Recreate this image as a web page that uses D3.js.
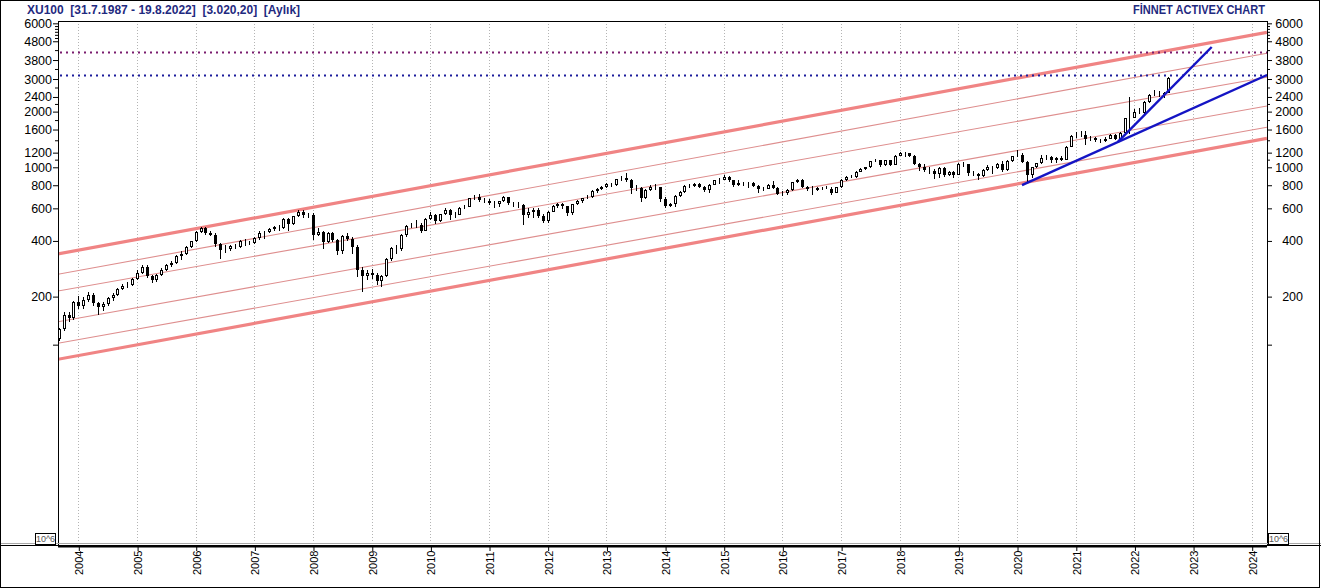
<!DOCTYPE html>
<html>
<head>
<meta charset="utf-8">
<script src="https://cdn.jsdelivr.net/npm/d3@7"></script>
<style>
  body { margin: 0; background: #fff; }
  text { font-family: Arial, "Liberation Sans", sans-serif; }
</style>
</head>
<body>
<div id="chart"></div>
<script>
// Monthly XU100 candles, the first one is September 2003
const firstMonth = "2003-09";

const opens = [
  118, 133, 160, 153,
  186, 177, 192, 204, 184, 176, 182, 196, 204, 221, 228, 232,
  250, 268, 290, 258, 246, 262, 280, 296, 305, 330, 340, 372,
  398, 449, 470, 440, 432, 385, 358, 362, 376, 372, 398, 393,
  391, 413, 440, 447, 462, 475, 470, 527, 495, 545, 575, 553,
  555, 431, 447, 396, 443, 405, 354, 425, 410, 372, 280, 258,
  269, 262, 244, 258, 318, 365, 360, 431, 482, 489, 485, 455,
  528, 551, 512, 558, 590, 552, 555, 606, 612, 680, 695, 665,
  660, 640, 632, 655, 690, 640, 635, 625, 555, 575, 590, 545,
  513, 575, 620, 635, 615, 565, 630, 655, 680, 690, 745, 760,
  782, 810, 805, 860, 870, 850, 775, 770, 680, 755, 785, 780,
  678, 620, 630, 700, 735, 795, 790, 810, 780, 750, 805, 850,
  857, 890, 850, 805, 825, 810, 820, 790, 760, 765, 800, 775,
  717, 730, 750, 830, 855, 785, 765, 755, 770, 775, 765, 728,
  781, 850, 890, 890, 945, 980, 1000, 1075, 1095, 1030, 1090, 1030,
  1153, 1195, 1190, 1150, 1040, 1010, 965, 955, 925, 995, 905, 945,
  913, 1040, 1036, 935, 925, 900, 965, 1010, 990, 1045, 965, 1080,
  1144, 1170, 1070, 905, 1000, 1050, 1120, 1140, 1090, 1120, 1100, 1290,
  1476, 1470, 1500, 1420, 1440, 1410, 1380, 1430, 1500, 1420, 1540, 1840,
  1858, 2000, 1970, 2250, 2450, 2500, 2460, 2530
];

const highs = [
  136, 166, 166, 190,
  201, 198, 213, 210, 186, 186, 199, 208, 224, 234, 240, 253,
  280, 296, 298, 262, 266, 284, 300, 312, 334, 352, 376, 402,
  452, 478, 474, 455, 440, 392, 378, 382, 385, 404, 410, 402,
  420, 452, 452, 470, 482, 490, 530, 535, 548, 590, 585, 568,
  565, 468, 455, 448, 448, 410, 430, 440, 418, 378, 290, 280,
  282, 268, 262, 322, 370, 378, 435, 486, 500, 520, 500, 532,
  572, 556, 562, 600, 595, 570, 610, 625, 684, 705, 715, 680,
  675, 660, 660, 700, 695, 650, 650, 630, 600, 605, 600, 560,
  580, 628, 645, 640, 620, 634, 662, 684, 705, 750, 770, 790,
  822, 820, 864, 895, 930, 860, 800, 778, 768, 800, 810, 785,
  690, 640, 706, 745, 800, 810, 822, 820, 790, 812, 856, 880,
  912, 895, 855, 850, 835, 830, 830, 800, 780, 815, 845, 780,
  745, 760, 835, 865, 860, 795, 790, 780, 785, 790, 780, 786,
  860, 900, 905, 955, 992, 1010, 1080, 1110, 1100, 1102, 1100, 1160,
  1210, 1215, 1200, 1160, 1060, 1040, 1000, 980, 1005, 1010, 960, 955,
  1050, 1070, 1045, 960, 930, 975, 1030, 1020, 1060, 1075, 1090, 1150,
  1236, 1190, 1080, 1010, 1060, 1165, 1160, 1150, 1140, 1150, 1300, 1490,
  1560, 1570, 1570, 1470, 1450, 1430, 1450, 1510, 1510, 1560, 1850, 2400,
  2060, 2080, 2270, 2480, 2620, 2600, 2560, 3060
];

const lows = [
  115, 131, 146, 150,
  172, 172, 188, 178, 160, 168, 178, 190, 202, 216, 222, 228,
  245, 265, 252, 238, 240, 258, 276, 290, 300, 315, 335, 365,
  395, 440, 430, 425, 372, 318, 345, 352, 360, 368, 375, 378,
  385, 405, 410, 440, 455, 455, 465, 450, 490, 540, 530, 535,
  405, 425, 362, 390, 395, 335, 340, 400, 340, 255, 212, 245,
  248, 232, 225, 255, 312, 342, 355, 420, 470, 470, 440, 450,
  520, 495, 508, 552, 520, 535, 550, 592, 608, 665, 650, 640,
  625, 600, 610, 650, 625, 610, 600, 490, 535, 530, 535, 500,
  500, 570, 605, 595, 545, 555, 625, 645, 672, 685, 730, 755,
  775, 785, 795, 840, 835, 720, 740, 650, 670, 745, 755, 650,
  600, 610, 610, 690, 730, 770, 780, 770, 735, 730, 800, 810,
  850, 835, 780, 795, 790, 770, 780, 730, 745, 760, 765, 705,
  700, 705, 745, 825, 770, 745, 710, 740, 750, 760, 710, 722,
  770, 845, 870, 880, 940, 970, 995, 1065, 1010, 1020, 1015, 1025,
  1150, 1140, 1130, 1030, 960, 940, 920, 860, 880, 890, 895, 880,
  905, 1010, 900, 900, 850, 890, 955, 925, 975, 940, 960, 1065,
  1135, 1050, 820, 880, 990, 1040, 1090, 1050, 1060, 1080, 1095, 1280,
  1440, 1450, 1320, 1380, 1370, 1360, 1375, 1420, 1400, 1410, 1530, 1520,
  1840, 1930, 1940, 2230, 2420, 2400, 2380, 2520
];

const closes = [
  133, 160, 153, 186,
  177, 192, 204, 184, 176, 182, 196, 204, 221, 228, 232, 250,
  268, 290, 258, 246, 262, 280, 296, 305, 330, 340, 372, 398,
  449, 470, 440, 432, 385, 358, 362, 376, 372, 398, 393, 391,
  413, 440, 447, 462, 475, 470, 527, 495, 545, 575, 553, 555,
  431, 447, 396, 443, 405, 354, 425, 410, 372, 280, 258, 269,
  262, 244, 258, 318, 365, 360, 431, 482, 489, 485, 455, 528,
  551, 512, 558, 590, 552, 555, 606, 612, 680, 695, 665, 660,
  640, 632, 655, 690, 640, 635, 625, 555, 575, 590, 545, 513,
  575, 620, 635, 615, 565, 630, 655, 680, 690, 745, 760, 782,
  810, 805, 860, 870, 850, 775, 770, 680, 755, 785, 780, 678,
  620, 630, 700, 735, 795, 790, 810, 780, 750, 805, 850, 857,
  890, 850, 805, 825, 810, 820, 790, 760, 765, 800, 775, 717,
  730, 750, 830, 855, 785, 765, 755, 770, 775, 765, 728, 781,
  850, 890, 890, 945, 980, 1000, 1075, 1095, 1030, 1090, 1030, 1153,
  1195, 1190, 1150, 1040, 1010, 965, 955, 925, 995, 905, 945, 913,
  1040, 1036, 935, 925, 900, 965, 1010, 990, 1045, 965, 1080, 1144,
  1170, 1070, 905, 1000, 1050, 1120, 1140, 1090, 1120, 1100, 1290, 1476,
  1470, 1500, 1420, 1440, 1410, 1380, 1430, 1500, 1420, 1540, 1840, 1858,
  2000, 1970, 2250, 2450, 2500, 2460, 2530, 3020
];

// axis ticks
const yearTicks = [2004, 2005, 2006, 2007, 2008, 2009, 2010, 2011, 2012, 2013, 2014,
  2015, 2016, 2017, 2018, 2019, 2020, 2021, 2022, 2023, 2024];
const yLabelTicks = [6000, 4800, 3800, 3000, 2400, 2000, 1600, 1200, 1000, 800, 600, 400, 200];
const yBareTicks = [110];
const yMinorTicks = [1100, 1400, 1800, 2200, 2700, 3400, 4300, 5000, 5200, 5400, 5600, 5800];

// regression channel: six parallel lines, values at the two ends
const channelDates = ["2003-08-27", "2024-04-05"];
const channelStart = [340, 264, 214.5, 146.3, 111.9, 91.7];
const channelEnd = [5366, 4133, 3065, 2145, 1645, 1435];

// blue trend lines
const trendDates = [["2020-02-01", "2024-04-05"], ["2021-09-20", "2023-04-27"]];
const trendValues = [[802, 3155], [1372, 4470]];

// horizontal dotted levels
const levelValues = [4180, 3165];

const titleLeft = "XU100  [31.7.1987 - 19.8.2022]  [3.020,20]  [Aylık]";
const titleRight = "FİNNET ACTIVEX CHART";

// ---- layout
const W = 1321, H = 588;
const plot = {left: 58, right: 1267, top: 21, bottom: 545};
const parseDay = d3.timeParse("%Y-%m-%d");
const parseMonth = d3.timeParse("%Y-%m");

const svg = d3.select("#chart")
  .append("svg")
  .attr("width", W)
  .attr("height", H);

svg.append("rect")
  .attr("x", 0).attr("y", 0)
  .attr("width", W).attr("height", H)
  .attr("fill", "#fff");

// scales: Jan candles sit on the year grid lines
const x = d3.scaleTime()
  .domain([new Date(2004, 0, 1), new Date(2024, 0, 1)])
  .range([78.3, 1251.7]);

const y = d3.scaleLog()
  .domain([9.09, 6177])
  .range([plot.bottom, plot.top]);

svg.append("defs").append("clipPath")
  .attr("id", "plotclip")
  .append("rect")
  .attr("x", plot.left).attr("y", plot.top)
  .attr("width", plot.right - plot.left)
  .attr("height", plot.bottom - plot.top);

// titles
svg.append("text")
  .attr("x", 27).attr("y", 14)
  .attr("fill", "#1f2a80")
  .attr("font-size", "12px")
  .attr("font-weight", "bold")
  .attr("xml:space", "preserve")
  .style("white-space", "pre")
  .text(titleLeft);

svg.append("text")
  .attr("x", 1265).attr("y", 14)
  .attr("text-anchor", "end")
  .attr("fill", "#1f2a80")
  .attr("font-size", "12px")
  .attr("font-weight", "bold")
  .attr("textLength", 132)
  .attr("lengthAdjust", "spacingAndGlyphs")
  .text(titleRight);

// vertical dotted year grid
svg.append("g")
  .selectAll("line")
  .data(yearTicks)
  .enter()
  .append("line")
  .attr("x1", d => Math.round(x(new Date(d, 0, 1))) + 0.5)
  .attr("x2", d => Math.round(x(new Date(d, 0, 1))) + 0.5)
  .attr("y1", plot.top)
  .attr("y2", plot.bottom)
  .attr("stroke", "#b4b4b4")
  .attr("stroke-dasharray", "1,2");

const area = svg.append("g").attr("clip-path", "url(#plotclip)");

// channel lines
const cd0 = parseDay(channelDates[0]), cd1 = parseDay(channelDates[1]);
channelStart.forEach((v, i) => {
  const thick = i === 0 || i === channelStart.length - 1;
  area.append("line")
    .attr("x1", x(cd0)).attr("y1", y(v))
    .attr("x2", x(cd1)).attr("y2", y(channelEnd[i]))
    .attr("stroke", thick ? "#f08484" : "#de8e8e")
    .attr("stroke-width", thick ? 3.2 : 1.1);
});

// dotted horizontal levels
levelValues.forEach((v, i) => {
  area.append("line")
    .attr("x1", plot.left + 2).attr("x2", plot.right)
    .attr("y1", Math.round(y(v)) + 0.5).attr("y2", Math.round(y(v)) + 0.5)
    .attr("stroke", i === 0 ? "#7a1c6e" : "#1c1c9c")
    .attr("stroke-width", 2)
    .attr("stroke-dasharray", "2,4");
});

// candles
const m0 = parseMonth(firstMonth);
const candles = closes.map((c, i) => ({
  date: new Date(m0.getFullYear(), m0.getMonth() + i, 1),
  open: opens[i], high: highs[i], low: lows[i], close: c
}));

const cg = area.append("g");
candles.forEach(d => {
  const cx = Math.round(x(d.date));
  cg.append("line")
    .attr("x1", cx + 0.5).attr("x2", cx + 0.5)
    .attr("y1", Math.round(y(d.high)))
    .attr("y2", Math.round(y(d.low)))
    .attr("stroke", "#000")
    .attr("shape-rendering", "crispEdges");
  const top = Math.round(y(Math.max(d.open, d.close)));
  const bot = Math.round(y(Math.min(d.open, d.close)));
  const up = d.close >= d.open;
  cg.append("rect")
    .attr("x", cx - 0.5)
    .attr("y", top + 0.5)
    .attr("width", 2)
    .attr("height", Math.max(0, bot - top - 1))
    .attr("fill", up ? "#fff" : "#000")
    .attr("stroke", "#000")
    .attr("shape-rendering", "crispEdges");
});

// blue trend lines
trendValues.forEach((vals, i) => {
  area.append("line")
    .attr("x1", x(parseDay(trendDates[i][0]))).attr("y1", y(vals[0]))
    .attr("x2", x(parseDay(trendDates[i][1]))).attr("y2", y(vals[1]))
    .attr("stroke", "#1414c4")
    .attr("stroke-width", 2.4);
});

// plot frame
svg.append("path")
  .attr("d", `M${plot.left + 0.5},${plot.bottom}V${plot.top + 0.5}H${plot.right + 0.5}V${plot.bottom}`)
  .attr("fill", "none")
  .attr("stroke", "#000")
  .attr("shape-rendering", "crispEdges");

svg.append("rect")
  .attr("x", 0).attr("y", plot.bottom - 2)
  .attr("width", W).attr("height", 1)
  .attr("fill", "#a8a8a8");
svg.append("rect")
  .attr("x", 0).attr("y", plot.bottom)
  .attr("width", W).attr("height", 1)
  .attr("fill", "#000");
svg.append("rect")
  .attr("x", plot.left).attr("y", plot.bottom)
  .attr("width", plot.right - plot.left).attr("height", 2.5)
  .attr("fill", "#000");

// y axes (left and right)
function styleAxis(g) {
  g.select(".domain").remove();
  g.selectAll("text").attr("fill", "#000").attr("font-size", "12.5px").attr("font-family", "Arial, 'Liberation Sans', sans-serif");
  g.selectAll("line").attr("stroke", "#000");
}

svg.append("g")
  .attr("transform", `translate(${plot.left},0)`)
  .call(d3.axisLeft(y).tickValues(yLabelTicks).tickFormat(d3.format("d")).tickSize(5).tickPadding(1))
  .call(styleAxis);
svg.append("g")
  .attr("transform", `translate(${plot.left},0)`)
  .call(d3.axisLeft(y).tickValues(yBareTicks).tickFormat("").tickSize(5))
  .call(styleAxis);
svg.append("g")
  .attr("transform", `translate(${plot.left},0)`)
  .call(d3.axisLeft(y).tickValues(yMinorTicks).tickFormat("").tickSize(3))
  .call(styleAxis);

const rightAxis = svg.append("g")
  .attr("transform", `translate(${plot.right},0)`)
  .call(d3.axisRight(y).tickValues(yLabelTicks).tickFormat(d3.format("d")).tickSize(5))
  .call(styleAxis);
rightAxis.selectAll("text").attr("x", 36).attr("text-anchor", "end");
svg.append("g")
  .attr("transform", `translate(${plot.right},0)`)
  .call(d3.axisRight(y).tickValues(yBareTicks).tickFormat("").tickSize(5))
  .call(styleAxis);
svg.append("g")
  .attr("transform", `translate(${plot.right},0)`)
  .call(d3.axisRight(y).tickValues(yMinorTicks).tickFormat("").tickSize(3))
  .call(styleAxis);

// x axis with vertical year labels
const xAxis = svg.append("g")
  .attr("transform", `translate(0.5,${plot.bottom + 1})`)
  .call(d3.axisBottom(x)
    .tickValues(yearTicks.map(d => new Date(d, 0, 1)))
    .tickFormat(d3.timeFormat("%Y"))
    .tickSize(5))
  .call(styleAxis);
xAxis.selectAll("text")
  .attr("font-size", "11px")
  .attr("x", -29)
  .attr("y", 0)
  .attr("dy", "0.36em")
  .attr("text-anchor", "start")
  .attr("transform", "rotate(-90)");

// "10^6" boxes at the bottom corners
[35, 1268].forEach(bx => {
  svg.append("rect")
    .attr("x", bx + 0.5).attr("y", 533.5)
    .attr("width", 20).attr("height", 11)
    .attr("fill", "#fff")
    .attr("stroke", "#000");
  svg.append("text")
    .attr("x", bx + 10.5).attr("y", 542)
    .attr("text-anchor", "middle")
    .attr("font-size", "9px")
    .attr("fill", "#555")
    .text("10^6");
});

// outer frame
svg.append("rect")
  .attr("x", 0.5).attr("y", 0.5)
  .attr("width", W - 2).attr("height", H - 1)
  .attr("fill", "none")
  .attr("stroke", "#000");
</script>
</body>
</html>
